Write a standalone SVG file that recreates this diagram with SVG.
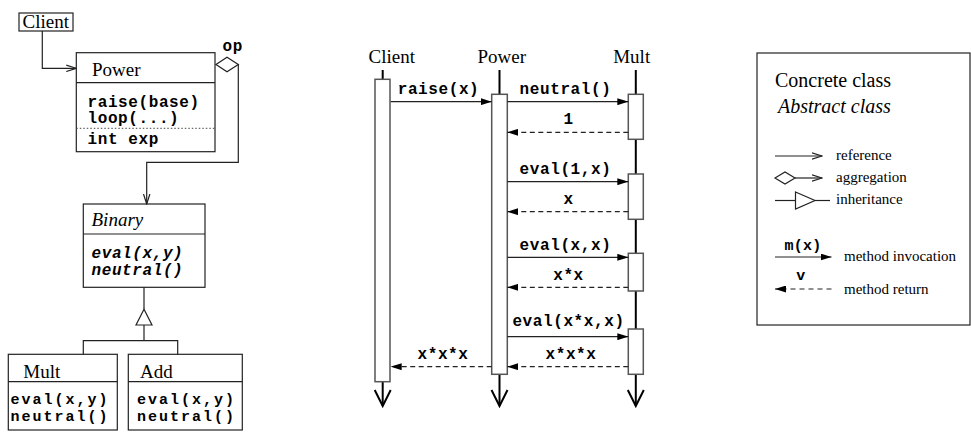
<svg xmlns="http://www.w3.org/2000/svg" width="971" height="432" viewBox="0 0 971 432">
<style>
.box{fill:#fff;stroke:#222;stroke-width:1.2}
.sep{stroke:#222;stroke-width:1.2;fill:none}
.dot{stroke:#444;stroke-width:1;stroke-dasharray:1.5 2;fill:none}
.serif{font-family:"Liberation Serif","Times New Roman",serif;font-size:19px;fill:#000}
.it{font-style:italic}
.mono{font-family:"Liberation Mono","Courier New",monospace;font-weight:bold;font-size:16px;letter-spacing:0.6px;fill:#000}
.mono17{font-family:"Liberation Mono","Courier New",monospace;font-weight:bold;font-size:15px;letter-spacing:2px;fill:#000}
.small{font-family:"Liberation Serif","Times New Roman",serif;font-size:15px;fill:#000}
.line{stroke:#222;stroke-width:1.2;fill:none}
.dash{stroke-dasharray:5 3.5}
.life{stroke:#000;stroke-width:2;fill:none}
.act{fill:#fff;stroke:#555;stroke-width:1.5}
.mid{text-anchor:middle}
</style>
<defs>
<marker id="open" markerWidth="11" markerHeight="8" refX="10" refY="4" orient="auto" markerUnits="userSpaceOnUse"><path d="M0,0.8 L10,4 L0,7.2" fill="none" stroke="#222" stroke-width="1.2"/></marker>
<marker id="filled" markerWidth="11" markerHeight="7" refX="11" refY="3.5" orient="auto" markerUnits="userSpaceOnUse"><path d="M0,0 L11,3.5 L0,7 Z" fill="#000"/></marker>
</defs>

<!-- Class diagram -->
<g id="client-class">
<rect class="box" x="19" y="13" width="54" height="18"/>
<text class="serif" x="22.5" y="27.5">Client</text>
</g>
<g id="power-class">
<rect class="box" x="76.3" y="52.7" width="138.7" height="99"/>
<line class="sep" x1="76.3" y1="82.7" x2="215" y2="82.7"/>
<line class="dot" x1="76.3" y1="128.3" x2="215" y2="128.3"/>
<text class="serif" x="92" y="76">Power</text>
<text class="mono" x="87.5" y="106.5">raise(base)</text>
<text class="mono" x="87.5" y="123">loop(...)</text>
<text class="mono" x="87.5" y="144">int exp</text>
</g>
<g id="binary-class">
<rect class="box" x="83.3" y="204" width="121.7" height="83.3"/>
<line class="sep" x1="83.3" y1="234" x2="205" y2="234"/>
<text class="serif it" x="91.5" y="226">Binary</text>
<text class="mono it" x="91.5" y="257.5">eval(x,y)</text>
<text class="mono it" x="91.5" y="275">neutral()</text>
</g>
<g id="mult-class">
<rect class="box" x="8.3" y="354.3" width="109" height="75.7"/>
<line class="sep" x1="8.3" y1="381.7" x2="117.3" y2="381.7"/>
<text class="serif" x="23.3" y="377.5">Mult</text>
<text class="mono17" x="10.5" y="404">eval(x,y)</text>
<text class="mono17" x="10.5" y="421">neutral()</text>
</g>
<g id="add-class">
<rect class="box" x="128.3" y="354.3" width="114" height="75.7"/>
<line class="sep" x1="128.3" y1="381.7" x2="242.3" y2="381.7"/>
<text class="serif" x="140" y="377.5">Add</text>
<text class="mono17" x="137" y="404">eval(x,y)</text>
<text class="mono17" x="137" y="421">neutral()</text>
</g>

<g id="class-connectors">
<polyline class="line" points="42.3,31 42.3,68.3 76.3,68.3" marker-end="url(#open)"/>
<polygon points="216,64.5 227,57.3 238.3,64.5 227,71.7" fill="#fff" stroke="#222" stroke-width="1.2"/>
<text class="mono" x="222.5" y="50.5">op</text>
<polyline class="line" points="238.3,64.5 238.3,162.3 146.7,162.3 146.7,204" marker-end="url(#open)"/>
<line class="line" x1="144" y1="287.3" x2="144" y2="309.3"/>
<polygon points="144,309.3 152,325 136,325" fill="#fff" stroke="#222" stroke-width="1.2"/>
<polyline class="line" points="144,325 144,340.7"/>
<polyline class="line" points="83.3,354.3 83.3,340.7 177.7,340.7 177.7,354.3"/>
</g>

<!-- Sequence diagram -->
<g id="seq-client">
<text class="serif mid" x="391.7" y="63.3">Client</text>
<line class="life" x1="382.7" y1="70" x2="382.7" y2="406"/>
<polyline class="life" points="374.7,390 382.7,406 390.7,390"/>
<rect class="act" x="375" y="79.3" width="15" height="302.4"/>
</g>
<g id="seq-power">
<text class="serif mid" x="501.7" y="63.3">Power</text>
<line class="life" x1="499.5" y1="70" x2="499.5" y2="406"/>
<polyline class="life" points="491.5,390 499.5,406 507.5,390"/>
<rect class="act" x="491.7" y="94.3" width="15.6" height="280"/>
</g>
<g id="seq-mult">
<text class="serif mid" x="631.7" y="63.3">Mult</text>
<line class="life" x1="635.8" y1="70" x2="635.8" y2="406"/>
<polyline class="life" points="627.8,390 635.8,406 643.8,390"/>
<rect class="act" x="628.3" y="94.3" width="15" height="45"/>
<rect class="act" x="628.3" y="174" width="15" height="45.3"/>
<rect class="act" x="628.3" y="253.3" width="15" height="37.7"/>
<rect class="act" x="628.3" y="329" width="15" height="45.3"/>
</g>

<g id="messages">
<line class="line" x1="390.7" y1="101.7" x2="491.7" y2="101.7" marker-end="url(#filled)"/>
<text class="mono mid" x="438.5" y="94">raise(x)</text>
<line class="line" x1="507.3" y1="101.7" x2="628.3" y2="101.7" marker-end="url(#filled)"/>
<text class="mono mid" x="565.5" y="94">neutral()</text>
<line class="line dash" x1="628.3" y1="132.3" x2="507.3" y2="132.3" marker-end="url(#filled)"/>
<text class="mono mid" x="568.5" y="124">1</text>
<line class="line" x1="507.3" y1="181.7" x2="628.3" y2="181.7" marker-end="url(#filled)"/>
<text class="mono mid" x="565.5" y="174">eval(1,x)</text>
<line class="line dash" x1="628.3" y1="211.7" x2="507.3" y2="211.7" marker-end="url(#filled)"/>
<text class="mono mid" x="568.5" y="204">x</text>
<line class="line" x1="507.3" y1="257.3" x2="628.3" y2="257.3" marker-end="url(#filled)"/>
<text class="mono mid" x="565.5" y="250">eval(x,x)</text>
<line class="line dash" x1="628.3" y1="287.3" x2="507.3" y2="287.3" marker-end="url(#filled)"/>
<text class="mono mid" x="568.5" y="280">x*x</text>
<line class="line" x1="507.3" y1="336.7" x2="628.3" y2="336.7" marker-end="url(#filled)"/>
<text class="mono mid" x="568.5" y="325.5">eval(x*x,x)</text>
<line class="line dash" x1="628.3" y1="366.7" x2="507.3" y2="366.7" marker-end="url(#filled)"/>
<text class="mono mid" x="571" y="359">x*x*x</text>
<line class="line dash" x1="491.7" y1="366.7" x2="390.7" y2="366.7" marker-end="url(#filled)"/>
<text class="mono mid" x="443" y="359">x*x*x</text>
</g>

<!-- Legend -->
<g id="legend">
<rect class="box" x="757" y="53" width="213" height="272"/>
<text class="serif" x="775" y="87" style="font-size:20px">Concrete class</text>
<text class="serif it" x="778" y="113.3" style="font-size:20px">Abstract class</text>
<line class="line" x1="775" y1="156" x2="822" y2="156" marker-end="url(#open)"/>
<text class="small" x="836" y="160">reference</text>
<polygon points="775,178 785,172 795,178 785,184" fill="#fff" stroke="#222" stroke-width="1.2"/>
<line class="line" x1="795" y1="178" x2="822" y2="178" marker-end="url(#open)"/>
<text class="small" x="836" y="182">aggregation</text>
<line class="line" x1="775" y1="200.5" x2="795.5" y2="200.5"/>
<polygon points="795.5,192 815,200.5 795.5,209" fill="#fff" stroke="#222" stroke-width="1.2"/>
<line class="line" x1="815" y1="200.5" x2="830" y2="200.5"/>
<text class="small" x="836" y="204">inheritance</text>
<text class="mono mid" x="803" y="250" style="font-size:15px;letter-spacing:0.3px">m(x)</text>
<line class="line" x1="775" y1="257" x2="831.5" y2="257" marker-end="url(#filled)"/>
<text class="small" x="844" y="261">method invocation</text>
<text class="mono mid" x="801" y="280" style="font-size:15px;letter-spacing:0.3px">v</text>
<line class="line" x1="831.5" y1="289" x2="775" y2="289" marker-end="url(#filled)" style="stroke-dasharray:5 4"/>
<text class="small" x="844" y="294">method return</text>
</g>
</svg>
